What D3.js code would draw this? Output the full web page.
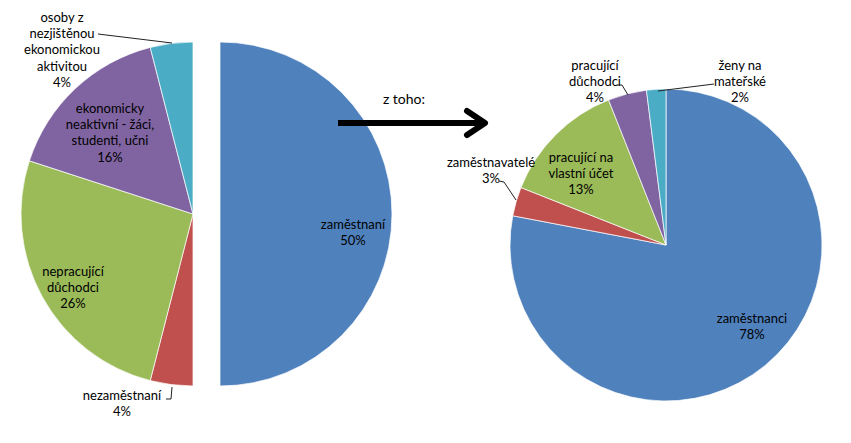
<!DOCTYPE html>
<html>
<head>
<meta charset="utf-8">
<script src="https://cdn.jsdelivr.net/npm/d3@7"></script>
<style>
  body { margin: 0; background: #fff; }
  text { font-family: Lato, "Open Sans", sans-serif; font-size: 13px; fill: #000; }
</style>
</head>
<body>
<div id="chart"></div>
<script>
// levý koláč - celkem
const leftLabels = [
  ['zaměstnaní'],
  ['nezaměstnaní'],
  ['nepracující', 'důchodci'],
  ['ekonomicky', 'neaktivní - žáci,', 'studenti, učni'],
  ['osoby z', 'nezjištěnou', 'ekonomickou', 'aktivitou']
];
const leftValues = [50, 4, 26, 16, 4];

// pravý koláč - z toho zaměstnaní
const rightLabels = [
  ['zaměstnanci'],
  ['zaměstnavatelé'],
  ['pracující na', 'vlastní účet'],
  ['pracující', 'důchodci'],
  ['ženy na', 'mateřské']
];
const rightValues = [78, 3, 13, 4, 2];

const colors = ['#4f81bd', '#c0504d', '#9bbb59', '#8064a2', '#4bacc6'];

const width = 851;
const height = 443;

const svg = d3.select('#chart')
  .append('svg')
  .attr('width', width)
  .attr('height', height);

const pie = d3.pie().sort(null).value(d => d);

const drawPie = (values, cx, cy, radius, explode) => {
  const arc = d3.arc().innerRadius(0).outerRadius(radius);
  const g = svg.append('g').attr('transform', `translate(${cx},${cy})`);
  g.selectAll('path')
    .data(pie(values))
    .enter()
    .append('path')
    .attr('d', arc)
    .attr('fill', (d, i) => colors[i])
    .attr('stroke', '#fff')
    .attr('stroke-width', 0.7)
    .attr('transform', (d, i) => i === 0 && explode ? `translate(${explode},0)` : null);
  return g;
};

// label placement (offset from pie centre), leader lines where needed
const addLabel = (g, lines, value, x, y) => {
  const t = g.append('text').attr('text-anchor', 'middle');
  lines.concat([value + '%']).forEach((s, i) => {
    t.append('tspan').attr('x', x).attr('y', y + i * 16.2).text(s);
  });
};

const leftG = drawPie(leftValues, 193, 214, 172, 27);
const leftPos = [[160, 15], [-71, 186], [-120, 62], [-83, -101], [-131, -192]];
leftValues.forEach((v, i) => addLabel(leftG, leftLabels[i], v, leftPos[i][0], leftPos[i][1]));

const rightG = drawPie(rightValues, 666, 245, 156, 0);
const rightPos = [[86, 78], [-175, -78], [-85, -83], [-71, -175], [74, -175]];
rightValues.forEach((v, i) => addLabel(rightG, rightLabels[i], v, rightPos[i][0], rightPos[i][1]));

const line = d3.line();
const leaders = [
  [[98, 34], [172, 43]],
  [[166, 399], [171, 399], [172, 387]],
  [[499, 181], [504, 182], [516, 200]],
  [[617, 85], [622, 85], [628, 95]],
  [[714, 84], [658, 91]]
];
svg.selectAll('.leader')
  .data(leaders)
  .enter()
  .append('path')
  .attr('class', 'leader')
  .attr('d', line)
  .attr('fill', 'none')
  .attr('stroke', '#222')
  .attr('stroke-width', 1);

// šipka "z toho:"
svg.append('text')
  .attr('x', 404)
  .attr('y', 104)
  .attr('text-anchor', 'middle')
  .style('font-size', '14px')
  .text('z toho:');

svg.append('path')
  .attr('d', line([[338, 123], [484, 123]]))
  .attr('stroke', '#000')
  .attr('stroke-width', 6);

svg.append('path')
  .attr('d', line([[467, 111], [485, 123], [467, 135]]))
  .attr('fill', 'none')
  .attr('stroke', '#000')
  .attr('stroke-width', 6)
  .attr('stroke-linecap', 'round')
  .attr('stroke-linejoin', 'round');
</script>
</body>
</html>
